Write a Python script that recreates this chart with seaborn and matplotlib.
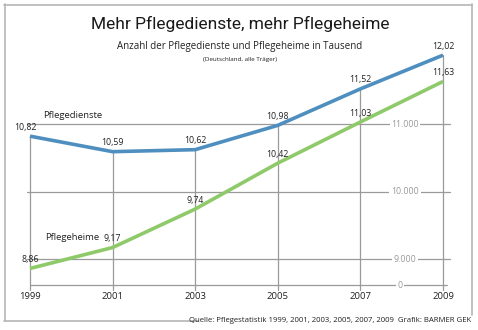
import matplotlib
matplotlib.use("Agg")
import matplotlib.pyplot as plt
import seaborn as sns
import pandas as pd
from matplotlib.lines import Line2D

sns.set_theme(style="white")
plt.rcParams['font.family'] = ['Open Sans', 'DejaVu Sans']

years = [1999, 2001, 2003, 2005, 2007, 2009]
pflegedienste = [10.82, 10.59, 10.62, 10.98, 11.52, 12.02]
pflegeheime = [8.86, 9.17, 9.74, 10.42, 11.03, 11.63]
grid_values = [9, 10, 11]
grid_labels = ["9.000", "10.000", "11.000"]

BLUE = "#4f8fbf"
GREEN = "#8fca6a"
GRAY = "#9a9a9a"

W, H = 478, 330
fig = plt.figure(figsize=(W / 100, H / 100), dpi=100)
fig.patch.set_facecolor("white")

def fx(px):
    return px / W

def fy(py):
    return 1 - py / H

ybot = 8.615
ytop = 12.1
ax = fig.add_axes([fx(30), fy(285), fx(443) - fx(30), fy(49.75) - fy(285)])
ax.set_xlim(1999, 2009)
ax.set_ylim(ybot, ytop)
ax.axis("off")

df = pd.DataFrame({
    "Jahr": years * 2,
    "Wert": pflegedienste + pflegeheime,
    "Serie": ["Pflegedienste"] * len(years) + ["Pflegeheime"] * len(years),
})

# grid lines (horizontal) with labels
for v, lab in zip(grid_values, grid_labels):
    ax.plot([1998.93, 2009.17], [v, v], color=GRAY, lw=0.9, clip_on=False, zorder=1)
    ax.text(2008.08, v, lab, ha="center", va="center", fontsize=6.3, color=GRAY,
            bbox=dict(facecolor="white", edgecolor="none", pad=1.2), zorder=2)

# baseline
ax.plot([1999, 2009.1], [ybot, ybot], color=GRAY, lw=0.9, clip_on=False, zorder=1)
ax.text(2007.96, ybot, "0", ha="center", va="center", fontsize=6.3, color=GRAY,
        bbox=dict(facecolor="white", edgecolor="none", pad=1.2), zorder=2)

# vertical lines from upper series down to baseline, plus tick marks
for x, v in zip(years, pflegedienste):
    ax.plot([x, x], [v, ybot - 0.08], color=GRAY, lw=0.9, clip_on=False, zorder=1)

sns.lineplot(data=df, x="Jahr", y="Wert", hue="Serie",
             palette={"Pflegedienste": BLUE, "Pflegeheime": GREEN},
             lw=2.6, legend=False, ax=ax, zorder=3)
for l in ax.lines[-2:]:
    l.set_solid_capstyle("butt")
    l.set_clip_on(False)

def fmt(v):
    return f"{v:.2f}".replace(".", ",")

for x, v in zip(years, pflegedienste):
    ax.annotate(fmt(v), (x, v), xytext=(-3 if x == 1999 else 0, 3.2), textcoords="offset points",
                ha="center", va="bottom", fontsize=6.3, color="#222222", zorder=4)
for x, v in zip(years, pflegeheime):
    ax.annotate(fmt(v), (x, v), xytext=(0, 3.2), textcoords="offset points",
                ha="center", va="bottom", fontsize=6.3, color="#222222", zorder=4)

for x in years:
    ax.text(x, ybot - 0.11, str(x), ha="center", va="top", fontsize=6.8, color="#222222")

fig.text(fx(43), fy(115), "Pflegedienste", ha="left", va="center", fontsize=6.8, color="#222222")
fig.text(fx(45), fy(237), "Pflegeheime", ha="left", va="center", fontsize=6.8, color="#222222")

fig.text(fx(240), fy(24), "Mehr Pflegedienste, mehr Pflegeheime", ha="center", va="center",
         fontsize=12.5, color="#1a1a1a", family=["Roboto", "Open Sans", "DejaVu Sans"])
fig.text(fx(240), fy(47), "Anzahl der Pflegedienste und Pflegeheime in Tausend", ha="center",
         va="center", fontsize=7, color="#222222")
fig.text(fx(240), fy(60), "(Deutschland, alle Träger)", ha="center", va="center",
         fontsize=4.5, color="#222222")

fig.text(fx(471), fy(321), "Quelle: Pflegestatistik 1999, 2001, 2003, 2005, 2007, 2009  Grafik: BARMER GEK",
         ha="right", va="center", fontsize=5.6, color="#222222")

# frame
fc = "#b5b5b5"
fig.add_artist(Line2D([fx(4), fx(472)], [fy(4.5), fy(4.5)], color=fc, lw=1.2))
fig.add_artist(Line2D([fx(4.5), fx(4.5)], [fy(4), fy(321)], color=fc, lw=1.2))
fig.add_artist(Line2D([fx(471.5), fx(471.5)], [fy(4), fy(315)], color=fc, lw=1.2))
fig.add_artist(Line2D([fx(4), fx(198)], [fy(321), fy(321)], color=fc, lw=1.2))

fig.savefig("out.png", dpi=100, facecolor="white")
